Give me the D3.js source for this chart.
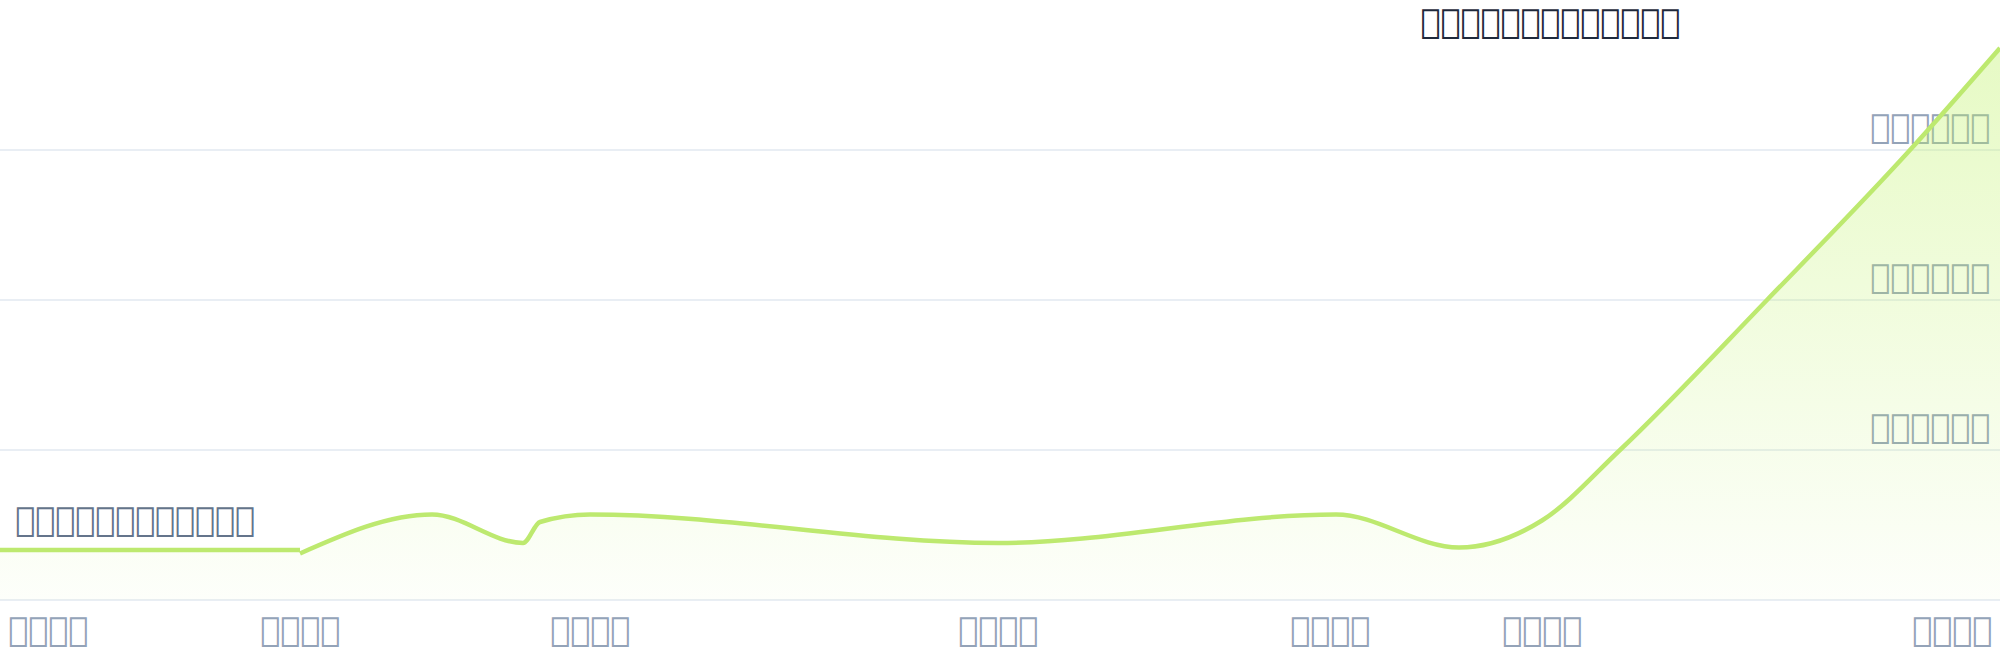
<!DOCTYPE html>
<html>
<head>
<meta charset="utf-8">
<script src="https://cdn.jsdelivr.net/npm/d3@7"></script>
<style>
html,body{margin:0;padding:0;background:#fff;}
svg{display:block;}
</style>
</head>
<body>
<svg id="chart" width="2000" height="660"></svg>
<script>
// ---- data ----
// (the reference's glyphs are not covered by any font; they show as empty boxes)
const titleText = "\uE010\uE011\uE012\uE013\uE014\uE015\uE016\uE017\uE018\uE019\uE01A\uE01B\uE01C";
const noteText = "\uE020\uE021\uE022\uE023\uE024\uE025\uE026\uE027\uE028\uE029\uE02A\uE02B";
const baseValue = 33.3;
const baseStart = 0, baseEnd = 15;
const seriesX = [15, 21.6, 26.15, 27.0, 29.5, 49.9, 66.8, 72.95, 77.1, 81, 88.35, 95.5, 100];
const seriesY = [31, 57, 38, 52, 57, 38, 57, 35, 53, 100, 200, 300, 368];
const xTickValues = [0, 15, 29.5, 49.9, 66.5, 77.1, 100];
const xTickLabels = ["\uE030\uE031\uE032\uE033", "\uE030\uE031\uE032\uE034", "\uE030\uE031\uE032\uE035",
                     "\uE030\uE031\uE032\uE036", "\uE030\uE031\uE032\uE037", "\uE030\uE031\uE032\uE038",
                     "\uE030\uE031\uE032\uE039"];
const yTickValues = [100, 200, 300];
const yTickLabels = ["\uE041\uE040\uE040\uE040\uE040\uE040", "\uE042\uE040\uE040\uE040\uE040\uE040",
                     "\uE043\uE040\uE040\uE040\uE040\uE040"];

// ---- layout ----
const W = 2000, H = 660;
const svg = d3.select("#chart");
const x = d3.scaleLinear().domain([0, 100]).range([0, W]);
const y = d3.scaleLinear().domain([0, 400]).range([600, 0]);
const FONT = "'DejaVu Sans', sans-serif";
const FS = 33.3;
const lime = "#bde96f";

const defs = svg.append("defs");
const grad = defs.append("linearGradient").attr("id", "fillGrad")
  .attr("gradientUnits", "userSpaceOnUse")
  .attr("x1", 0).attr("x2", 0).attr("y1", y(368)).attr("y2", y(0));
grad.append("stop").attr("offset", 0).attr("stop-color", "#bef264").attr("stop-opacity", 0.38);
grad.append("stop").attr("offset", 1).attr("stop-color", "#bef264").attr("stop-opacity", 0.03);

// gridlines
svg.append("g").selectAll("line").data([0, ...yTickValues]).join("line")
  .attr("x1", 0).attr("x2", W)
  .attr("y1", d => y(d)).attr("y2", d => y(d))
  .attr("stroke", "#e2e8f0").attr("stroke-width", 1.5);

// y labels
svg.append("g").selectAll("text").data(yTickValues).join("text")
  .attr("x", 1990).attr("y", d => y(d) - 12)
  .attr("text-anchor", "end")
  .attr("font-family", FONT).attr("font-size", FS)
  .attr("fill", "#94a3b8")
  .text((d, i) => yTickLabels[i]);

const pts = seriesX.map((v, i) => [v, seriesY[i]]);
const basePts = [[baseStart, baseValue], [baseEnd, baseValue]];

const area = d3.area().curve(d3.curveMonotoneX)
  .x(d => x(d[0])).y0(y(0)).y1(d => y(d[1]));
const line = d3.line().curve(d3.curveMonotoneX)
  .x(d => x(d[0])).y(d => y(d[1]));

svg.append("path").attr("d", area(basePts)).attr("fill", "url(#fillGrad)");
svg.append("path").attr("d", area(pts)).attr("fill", "url(#fillGrad)");

svg.append("path").attr("d", line(basePts)).attr("fill", "none")
  .attr("stroke", lime).attr("stroke-width", 4.5);
svg.append("path").attr("d", line(pts)).attr("fill", "none")
  .attr("stroke", lime).attr("stroke-width", 4.5).attr("stroke-linejoin", "round");

// x labels
svg.append("g").selectAll("text").data(xTickValues).join("text")
  .attr("x", (d, i) => i === 0 ? 8 : i === xTickValues.length - 1 ? 1992 : x(d))
  .attr("y", 641)
  .attr("text-anchor", (d, i) => i === 0 ? "start" : i === xTickValues.length - 1 ? "end" : "middle")
  .attr("font-family", FONT).attr("font-size", FS)
  .attr("fill", "#94a3b8")
  .text((d, i) => xTickLabels[i]);

// annotation
svg.append("text").attr("x", 15).attr("y", 531)
  .attr("font-family", FONT).attr("font-size", FS)
  .attr("fill", "#64748b").text(noteText);

// title
svg.append("text").attr("x", 1680).attr("y", 33).attr("text-anchor", "end")
  .attr("font-family", FONT).attr("font-size", FS)
  .attr("fill", "#1e293b").text(titleText);
</script>
</body>
</html>
